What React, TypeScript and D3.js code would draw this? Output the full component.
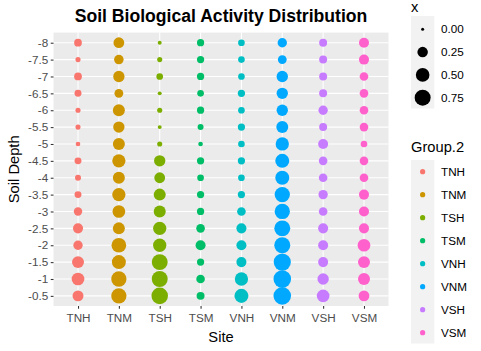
import React, {useEffect, useRef} from "react";
import * as d3 from 'd3';

const sites = ["TNH", "TNM", "TSH", "TSM", "VNH", "VNM", "VSH", "VSM"];
const depths = ["-8", "-7.5", "-7", "-6.5", "-6", "-5.5", "-5", "-4.5", "-4", "-3.5", "-3", "-2.5", "-2", "-1.5", "-1", "-0.5"];
const colors = ["#F8766D", "#CD9600", "#7CAE00", "#00BE67", "#00BFC4", "#00A9FF", "#C77CFF", "#FF61CC"];

// activity per depth, from -8 down to -0.5
const tnh = [0.10, 0.02, 0.10, 0.07, 0.02, 0.02, 0.012, 0.07, 0.04, 0.07, 0.13, 0.22, 0.18, 0.36, 0.42, 0.28];
const tnm = [0.27, 0.19, 0.31, 0.15, 0.36, 0.31, 0.36, 0.47, 0.36, 0.47, 0.42, 0.36, 0.61, 0.54, 0.67, 0.67];
const tsh = [0.004, 0.02, 0.06, 0.004, 0.02, 0.004, 0.02, 0.31, 0.27, 0.36, 0.36, 0.47, 0.47, 0.75, 0.75, 0.82];
const tsm = [0.08, 0.08, 0.08, 0.06, 0.08, 0.04, 0.012, 0.08, 0.06, 0.08, 0.08, 0.14, 0.22, 0.08, 0.14, 0.11];
const vnh = [0.06, 0.06, 0.06, 0.08, 0.06, 0.08, 0.06, 0.08, 0.06, 0.08, 0.14, 0.22, 0.22, 0.22, 0.47, 0.54];
const vnm = [0.18, 0.15, 0.31, 0.31, 0.31, 0.36, 0.47, 0.54, 0.54, 0.67, 0.67, 0.75, 0.75, 0.90, 0.95, 0.95];
const vsh = [0.11, 0.11, 0.11, 0.11, 0.18, 0.11, 0.22, 0.14, 0.14, 0.18, 0.14, 0.22, 0.22, 0.22, 0.31, 0.42];
const vsm = [0.22, 0.22, 0.14, 0.14, 0.14, 0.14, 0.06, 0.14, 0.14, 0.22, 0.22, 0.22, 0.42, 0.36, 0.36, 0.27];
const seriesValues = [tnh, tnm, tsh, tsm, vnh, vnm, vsh, vsm];

const sizeBreaks = [0, 0.25, 0.5, 0.75];

const App: React.FC = () => {
    const divRef = useRef<HTMLDivElement | null>(null);

    useEffect(() => {
        if (!divRef.current) return;
        const div = d3.select(divRef.current);
        div.selectAll('*').remove();

        const W = 481, H = 351;
        const panel = {left: 53.5, right: 388.5, top: 32.6, bottom: 306};
        const font = "'Liberation Sans', Arial, sans-serif";

        const svg = div.append("svg")
            .attr("width", W)
            .attr("height", H)
            .style("position", "absolute")
            .style("left", "0px")
            .style("top", "0px")
            .style("font-family", font);

        svg.append("rect").attr("width", W).attr("height", H).attr("fill", "white");

        const x = d3.scalePoint<string>().domain(sites).range([panel.left, panel.right]).padding(0.6);
        const y = d3.scalePoint<string>().domain(depths).range([panel.top, panel.bottom]).padding(0.6);
        const size = d3.scaleSqrt().domain([0, 0.95]).range([1.5, 8.8]);
        const color = d3.scaleOrdinal<string, string>().domain(sites).range(colors);

        // panel background + grid
        svg.append("rect")
            .attr("x", panel.left).attr("y", panel.top)
            .attr("width", panel.right - panel.left).attr("height", panel.bottom - panel.top)
            .attr("fill", "#EBEBEB");
        svg.append("g").selectAll("line").data(depths).enter().append("line")
            .attr("x1", panel.left).attr("x2", panel.right)
            .attr("y1", d => y(d)!).attr("y2", d => y(d)!)
            .attr("stroke", "white").attr("stroke-width", 1.07);
        svg.append("g").selectAll("line").data(sites).enter().append("line")
            .attr("y1", panel.top).attr("y2", panel.bottom)
            .attr("x1", d => x(d)!).attr("x2", d => x(d)!)
            .attr("stroke", "white").attr("stroke-width", 1.07);

        // points
        const points = sites.flatMap((s, i) => depths.map((dp, j) => ({site: s, depth: dp, v: seriesValues[i][j]})));
        svg.append("g").selectAll("circle").data(points).enter().append("circle")
            .attr("cx", d => x(d.site)!)
            .attr("cy", d => y(d.depth)!)
            .attr("r", d => size(d.v))
            .attr("fill", d => color(d.site));

        // axes
        const xAxis = svg.append("g")
            .attr("transform", `translate(0,${panel.bottom})`)
            .call(d3.axisBottom(x).tickSize(2.75).tickPadding(2.5));
        const yAxis = svg.append("g")
            .attr("transform", `translate(${panel.left},0)`)
            .call(d3.axisLeft(y).tickSize(2.75).tickPadding(2.5));
        [xAxis, yAxis].forEach(a => {
            a.select(".domain").remove();
            a.selectAll(".tick line").attr("stroke", "#333333").attr("stroke-width", 1.07);
            a.selectAll(".tick text")
                .attr("fill", "#4D4D4D")
                .style("font-size", "11.7px")
                .style("font-family", font);
        });
        xAxis.selectAll(".tick text").attr("dy", "0.95em");

        // titles
        svg.append("text")
            .attr("x", (panel.left + panel.right) / 2).attr("y", 21.5)
            .attr("text-anchor", "middle")
            .style("font-size", "17.6px").style("font-weight", "bold")
            .text("Soil Biological Activity Distribution");
        svg.append("text")
            .attr("x", (panel.left + panel.right) / 2).attr("y", 342)
            .attr("text-anchor", "middle")
            .style("font-size", "14.7px")
            .text("Site");
        svg.append("text")
            .attr("transform", `translate(19,${(panel.top + panel.bottom) / 2}) rotate(-90)`)
            .attr("text-anchor", "middle")
            .style("font-size", "14.7px")
            .text("Soil Depth");

        // size legend
        const lx = 411, keyW = 23.3;
        svg.append("text").attr("x", lx).attr("y", 12).style("font-size", "14.7px").text("x");
        const sizeRows = sizeBreaks.map((b, i) => ({b, cy: 29.3 + i * 22.8}));
        svg.append("rect").attr("x", lx).attr("y", 16).attr("width", keyW).attr("height", 92.5).attr("fill", "#F2F2F2");
        const sg = svg.append("g");
        sg.selectAll("circle").data(sizeRows).enter().append("circle")
            .attr("cx", lx + keyW / 2).attr("cy", d => d.cy).attr("r", d => size(d.b)).attr("fill", "black");
        sg.selectAll("text").data(sizeRows).enter().append("text")
            .attr("x", 441).attr("y", d => d.cy).attr("dy", "0.35em")
            .style("font-size", "11.7px").text(d => d3.format(".2f")(d.b));

        // colour legend
        svg.append("text").attr("x", lx).attr("y", 152).style("font-size", "14.7px").text("Group.2");
        svg.append("rect").attr("x", lx).attr("y", 160).attr("width", keyW).attr("height", 183.5).attr("fill", "#F2F2F2");
        const cg = svg.append("g");
        const colRows = sites.map((s, i) => ({s, cy: 171.7 + i * 23}));
        cg.selectAll("circle").data(colRows).enter().append("circle")
            .attr("cx", lx + keyW / 2).attr("cy", d => d.cy).attr("r", 2.6).attr("fill", d => color(d.s));
        cg.selectAll("text").data(colRows).enter().append("text")
            .attr("x", 441).attr("y", d => d.cy).attr("dy", "0.35em")
            .style("font-size", "11.7px").text(d => d.s);
    }, []);

    return (
        <div ref={divRef}/>
    );
};

export default App;
